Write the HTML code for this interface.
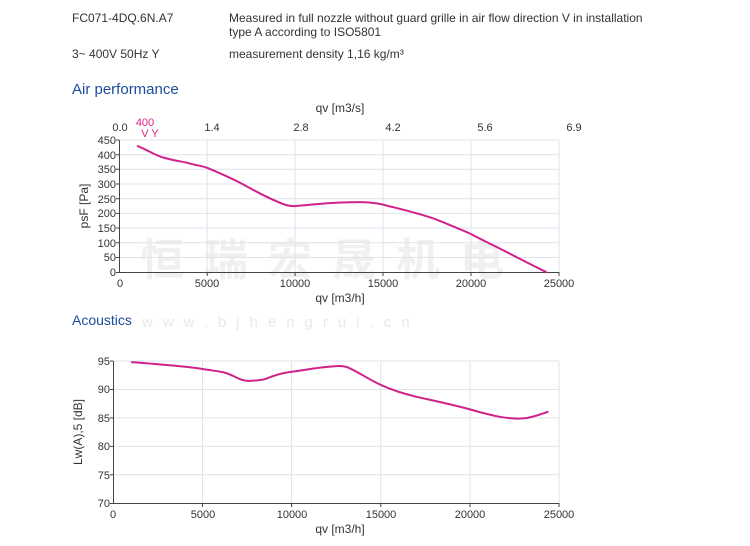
<!DOCTYPE html>
<html><head><meta charset="utf-8"><style>
html,body{margin:0;padding:0;background:#fff;width:750px;height:546px;overflow:hidden}
svg text{font-family:"Liberation Sans","Noto Sans CJK SC",sans-serif}
</style></head><body>
<svg width="750" height="546" viewBox="0 0 750 546" xmlns="http://www.w3.org/2000/svg">
<g font-size="12" fill="#333">
<text x="72" y="22">FC071-4DQ.6N.A7</text>
<text x="229" y="22">Measured in full nozzle without guard grille in air flow direction V in installation</text>
<text x="229" y="36">type A according to ISO5801</text>
<text x="72" y="58">3~ 400V 50Hz Y</text>
<text x="229" y="58">measurement density 1,16 kg/m³</text>
</g>
<text x="72" y="94" font-size="15" fill="#1a4d9c">Air performance</text>
<text x="72" y="325" font-size="14" fill="#1a4d9c">Acoustics</text>
<text x="142" y="327" font-size="15" fill="#e8e8e8" letter-spacing="10">www.bjhengrui.cn</text>
<text x="140" y="275" font-size="44" fill="#f0f0f0" font-weight="bold" letter-spacing="20">恒瑞宏晟机电</text>
<g stroke="#dde4ec" stroke-width="1">
<line x1="207.2" y1="140" x2="207.2" y2="272"/><line x1="295.1" y1="140" x2="295.1" y2="272"/><line x1="383" y1="140" x2="383" y2="272"/><line x1="471" y1="140" x2="471" y2="272"/><line x1="559" y1="140" x2="559" y2="272"/>
<line x1="119" y1="140" x2="559" y2="140"/><line x1="119" y1="154.7" x2="559" y2="154.7"/><line x1="119" y1="169.3" x2="559" y2="169.3"/><line x1="119" y1="184" x2="559" y2="184"/><line x1="119" y1="198.7" x2="559" y2="198.7"/><line x1="119" y1="213.4" x2="559" y2="213.4"/><line x1="119" y1="228" x2="559" y2="228"/><line x1="119" y1="242.7" x2="559" y2="242.7"/><line x1="119" y1="257.5" x2="559" y2="257.5"/>
</g>
<g stroke="#444" stroke-width="1"><line x1="119.5" y1="140" x2="119.5" y2="273"/><line x1="119" y1="272.5" x2="559" y2="272.5"/>
<path d="M116,140H119M116,154.7H119M116,169.3H119M116,184H119M116,198.7H119M116,213.4H119M116,228H119M116,242.7H119M116,257.5H119M116,272.5H119M207.2,272V276M295.1,272V276M383,272V276M471,272V276M559,272V276"/></g>
<g font-size="11" fill="#333" text-anchor="end">
<text x="116" y="144">450</text><text x="116" y="159">400</text><text x="116" y="173">350</text><text x="116" y="188">300</text><text x="116" y="203">250</text><text x="116" y="217">200</text><text x="116" y="232">150</text><text x="116" y="247">100</text><text x="116" y="261">50</text><text x="116" y="276">0</text>
</g>
<g font-size="11" fill="#333" text-anchor="middle">
<text x="120" y="287">0</text><text x="207" y="287">5000</text><text x="295" y="287">10000</text><text x="383" y="287">15000</text><text x="471" y="287">20000</text><text x="559" y="287">25000</text>
<text x="340" y="302" font-size="12">qv [m3/h]</text>
<text x="120" y="131">0.0</text><text x="212" y="131">1.4</text><text x="301" y="131">2.8</text><text x="393" y="131">4.2</text><text x="485" y="131">5.6</text><text x="574" y="131">6.9</text>
<text x="340" y="112" font-size="12">qv [m3/s]</text>
</g>
<text x="145" y="126" font-size="11" fill="#e0208a" text-anchor="middle">400</text>
<text x="150" y="137" font-size="11" fill="#e0208a" text-anchor="middle">V Y</text>
<text transform="translate(88,206) rotate(-90)" font-size="12" fill="#333" text-anchor="middle">psF [Pa]</text>
<path d="M137,145.8 C150,151 155,155.5 163.3,157.5 C175,161 183,161.5 189.6,163.4 C197,165.5 202,166 207.2,167.8 C222,174 232,178.5 242.4,184 C255,191 266,197 277.5,201.7 C285,205.5 290,206.3 295.1,206.1 C310,205 320,203.5 330.3,203.1 C345,202.3 357,202 365.4,202.3 C373,202.8 378,203.5 383,204.6 C400,209 420,213.5 435.7,219.3 C450,225 460,229 470.9,234 C483,240.5 494,245.5 506,251.7 C520,259 533,265.5 546.5,272.3" fill="none" stroke="#d0228a" stroke-width="2"/>
<g stroke="#dde4ec" stroke-width="1">
<line x1="202.5" y1="361" x2="202.5" y2="503"/><line x1="291.6" y1="361" x2="291.6" y2="503"/><line x1="380.8" y1="361" x2="380.8" y2="503"/><line x1="470" y1="361" x2="470" y2="503"/><line x1="559" y1="361" x2="559" y2="503"/>
<line x1="113" y1="361" x2="559" y2="361"/><line x1="113" y1="389.5" x2="559" y2="389.5"/><line x1="113" y1="417.9" x2="559" y2="417.9"/><line x1="113" y1="446.4" x2="559" y2="446.4"/><line x1="113" y1="474.8" x2="559" y2="474.8"/>
</g>
<g stroke="#444" stroke-width="1"><line x1="113.5" y1="361" x2="113.5" y2="504"/><line x1="113" y1="503.5" x2="559" y2="503.5"/>
<path d="M110,361H113M110,389.5H113M110,417.9H113M110,446.4H113M110,474.8H113M110,503.5H113M202.5,503V507M291.6,503V507M380.8,503V507M470,503V507M559,503V507"/></g>
<g font-size="11" fill="#333" text-anchor="end">
<text x="110" y="365">95</text><text x="110" y="393">90</text><text x="110" y="422">85</text><text x="110" y="450">80</text><text x="110" y="479">75</text><text x="110" y="507">70</text>
</g>
<g font-size="11" fill="#333" text-anchor="middle">
<text x="113" y="518">0</text><text x="203" y="518">5000</text><text x="292" y="518">10000</text><text x="381" y="518">15000</text><text x="470" y="518">20000</text><text x="559" y="518">25000</text>
<text x="340" y="533" font-size="12">qv [m3/h]</text>
</g>
<text transform="translate(82,432) rotate(-90)" font-size="12" fill="#333" text-anchor="middle">Lw(A),5 [dB]</text>
<path d="M131.1,362.1 C145,363 155,364 166.8,365 C180,366.3 192,367.2 202.5,369 C212,370.5 218,371 223.8,372.4 C235,375.5 240,381 248.8,380.9 C256,380.8 260,380 264.9,379.2 C275,375 282,373 291.6,371.8 C305,370 320,367 336.2,366.1 C342,365.8 345,366.2 348.7,367.8 C360,373 370,380 380.8,384.9 C393,390.5 403,393.5 416.4,396.8 C435,401 452,404.5 469.9,409.4 C485,413.5 500,418 514.5,418.5 C520,418.7 523,418.6 527,418 C535,416.5 542,414 548.4,411.6" fill="none" stroke="#d0228a" stroke-width="2"/>
</svg>
</body></html>
